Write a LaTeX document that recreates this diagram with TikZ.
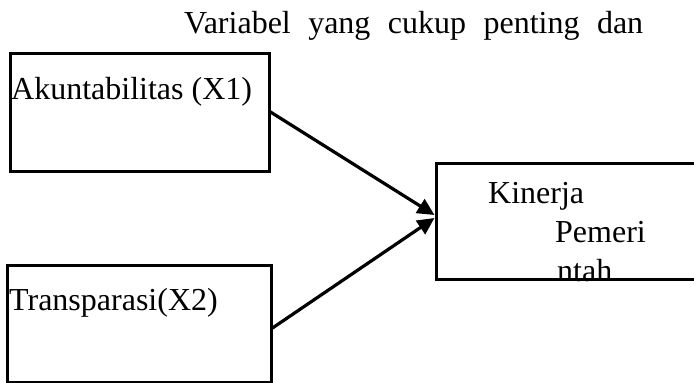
\documentclass[tikz,border=0pt]{standalone}
\usepackage{fontspec}
\setmainfont{Liberation Serif}
\usetikzlibrary{arrows.meta,calc}
\begin{document}
\begin{tikzpicture}[x=1pt,y=-1pt,
  lbl/.style={anchor=base west,inner sep=0pt,font=\fontsize{32}{38}\selectfont},
  box/.style={draw,line width=3pt,rectangle,inner sep=0pt},
  conn/.style={line width=3.2pt,-{Triangle[length=17pt,width=16pt]}}]
\clip (0,0) rectangle (694,383);
\fill[white] (0,0) rectangle (694,383);
% texts
\node[lbl] (head) at (184,33) {\makebox[459pt][s]{Variabel yang cukup penting dan}};
\node[lbl] (t1) at (11,99) {Akuntabilitas (X1)};
\node[lbl] (t2) at (9,310) {Transparasi(X2)};
\node[lbl] (k1) at (488,203) {Kinerja};
\node[lbl] (k2) at (555,242) {Pemeri};
\node[lbl] (k3) at (557,281) {ntah};
% boxes
\node[box,minimum width=259pt,minimum height=118pt] (b1) at (139.5,112) {};
\node[box,minimum width=264pt,minimum height=117pt] (b2) at (139,323.5) {};
\node[box,minimum width=274pt,minimum height=116pt] (b3) at (573,221) {};
% connectors
\coordinate (s2) at ($(b2.east)+(0,4.5)$);
\coordinate (e1) at ($(b3.west)+(0,-6)$);
\coordinate (e2) at ($(b3.west)+(0,-3)$);
\draw[conn] (b1.east) -- (e1);
\draw[conn] (s2) -- (e2);
\end{tikzpicture}
\end{document}
